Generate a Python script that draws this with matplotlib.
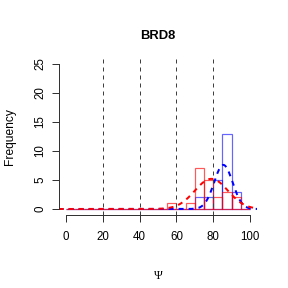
import numpy as np
import matplotlib
matplotlib.use("Agg")
import matplotlib.pyplot as plt

plt.rcParams['font.family'] = ['Liberation Sans', 'DejaVu Sans']

# histogram data (bin width 5, 0..100)
bin_edges = np.arange(0, 105, 5)
blue_counts = [0]*14 + [2, 2, 5, 13, 3, 0]
red_counts = [0]*11 + [1, 0, 1, 7, 5, 2, 3, 2, 0]

# fitted normal curves: peak height, mean, sd
blue_fit = (7.6, 85.5, 5.0)
red_fit = (5.2, 79.0, 9.0)

vlines = [20, 40, 60, 80]
title = "BRD8"

W = 288
fig = plt.figure(figsize=(4, 4), dpi=72)
ax = fig.add_axes([58.6/W, 1 - 214.8/W, 198.8/W, 156.6/W])

# histograms as outlined bars
ax.bar(bin_edges[:-1], blue_counts, width=5, align='edge', fill=False,
       edgecolor=(0, 0, 1, 0.6), linewidth=1.2)
ax.bar(bin_edges[:-1], red_counts, width=5, align='edge', fill=False,
       edgecolor=(1, 0, 0, 0.65), linewidth=1.2)

# normal curves over the whole plot range
xs = np.linspace(-4, 104, 400)
def curve(fit):
  a, m, s = fit
  return a * np.exp(-(xs - m)**2 / (2 * s**2))

ax.plot(xs, curve(blue_fit), color='#0000FF', lw=2, dashes=(2.5, 2.5))
ax.plot(xs, curve(red_fit), color='#FF0000', lw=2, dashes=(2.5, 2.5))

for v in vlines:
  ax.axvline(v, color='#404040', lw=1, dashes=(4, 4))

ax.set_xlim(-4, 104)
ax.set_ylim(-1, 26)
ax.set_xticks([0, 20, 40, 60, 80, 100])
ax.set_yticks([0, 5, 10, 15, 20, 25])

for s in ['top', 'right']:
  ax.spines[s].set_visible(False)
ax.spines['left'].set_bounds(0, 25)
ax.spines['bottom'].set_bounds(0, 100)
for s in ['left', 'bottom']:
  ax.spines[s].set_color('#333333')
  ax.spines[s].set_linewidth(1)

ax.tick_params(direction='out', length=7, width=1, color='#333333',
               labelsize=11.5, labelcolor='black')
ax.tick_params(axis='x', pad=9)
ax.tick_params(axis='y', pad=5)
for lab in ax.get_yticklabels():
  lab.set_rotation(90)
  lab.set_va('center')

ax.set_ylabel("Frequency", fontsize=12, va='center')
ax.yaxis.set_label_coords(-0.245, 0.5)
ax.set_xlabel("Ψ", fontsize=12, family=['Liberation Serif', 'DejaVu Serif'])
ax.xaxis.set_label_coords(0.5, -0.352)
ax.text(0.5, 1.14, title, transform=ax.transAxes, ha='center', va='center',
        fontsize=13, fontweight='bold')

fig.savefig("out.png", dpi=72)
